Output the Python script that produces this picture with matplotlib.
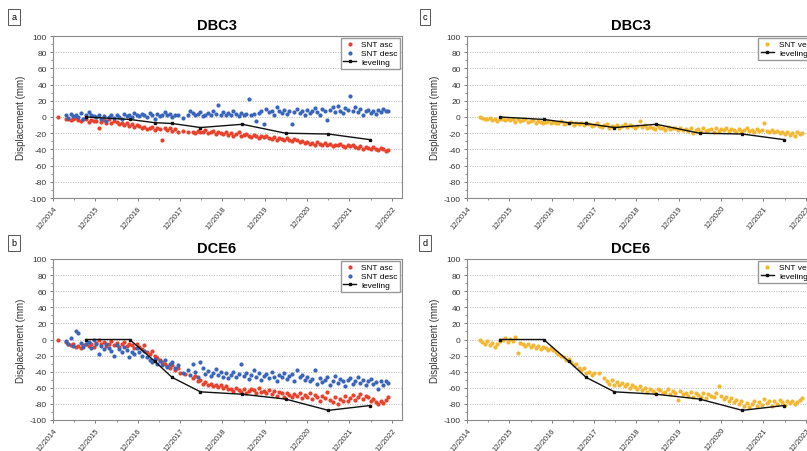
import matplotlib.pyplot as plt
import numpy as np
from matplotlib import ticker

plt.rcParams["font.family"] = ["Liberation Sans", "DejaVu Sans"]
plt.rcParams["axes.unicode_minus"] = False
plt.rcParams["figure.dpi"] = 100

nan = np.nan

# acquisition times in years since 12/2014
t_acq = [0.12,
         0.30, 0.36, 0.42, 0.48, 0.54, 0.60, 0.66, 0.72, 0.78, 0.84, 0.90, 0.96,
         1.02, 1.08, 1.14, 1.20, 1.26, 1.32, 1.38, 1.44, 1.50, 1.56, 1.62, 1.68, 1.74, 1.80, 1.86, 1.92, 1.98,
         2.04, 2.10, 2.16, 2.22, 2.28, 2.34, 2.40, 2.46, 2.52, 2.58, 2.64, 2.70, 2.76, 2.82, 2.88, 2.94,
         3.00, 3.06, 3.12, 3.18, 3.24, 3.30, 3.36, 3.42, 3.48, 3.54, 3.60, 3.66, 3.72, 3.78, 3.84, 3.90, 3.96,
         4.02, 4.08, 4.14, 4.20, 4.26, 4.32, 4.38, 4.44, 4.50, 4.56, 4.62, 4.68, 4.74, 4.80, 4.86, 4.92, 4.98,
         5.04, 5.10, 5.16, 5.22, 5.28, 5.34, 5.40, 5.46, 5.52, 5.58, 5.64, 5.70, 5.76, 5.82, 5.88, 5.94,
         6.00, 6.06, 6.12, 6.18, 6.24, 6.30, 6.36, 6.42, 6.48, 6.54, 6.60, 6.66, 6.72, 6.78, 6.84, 6.90, 6.96,
         7.02, 7.08, 7.14, 7.20, 7.26, 7.32, 7.38, 7.44, 7.50, 7.56, 7.62, 7.68, 7.74, 7.80, 7.86, 7.92]

dbc3_asc = [0,
            -3, -2, -4, -3, -1, -4, -5, -3, -2, -6, -4, -5,
            -5, -14, -6, -4, -7, -3, -8, -5, -6, -9, -7, -10, -8, -11, -9, -12, -10,
            -11, -13, -12, -15, -14, -12, -16, -13, -15, -28, -14, -16, -13, -17, -15, -18,
            nan, -17, nan, -19, nan, -18, -20, -17, -19, -18, -16, -20, -19, -17, -21, -19, -20,
            -21, -19, -22, -20, -23, -21, -19, -24, -22, -21, -23, -25, -22, -24, -26, -23, -25,
            -24, -26, -27, -25, -28, -26, -27, -29, -26, -28, -30, -27, -29, -31, -30, -32,
            -31, -33, -32, -34, -31, -33, -35, -32, -34, -33, -36, -34, -35, -33, -36, -37, -35,
            -36, -34, -37, -38, -36, -39, -37, -38, -40, -37, -39, -41, -38, -40, -42, -41]
dbc3_desc = [nan,
             2, -1, 4, 1, 3, 0, 5, -2, 2, 6, 3, 1,
             0, 2, -3, 1, -5, 0, 3, -1, 2, 0, -2, 4, 1, 3, 0, 5, 2,
             1, 4, 2, 0, 5, 3, -2, 4, 1, 3, 6, 2, 4, 0, 3, 2,
             nan, -1, nan, 3, 8, 5, 2, 4, 6, 1, 3, 5, 2, 7, 4, 15, 3,
             6, 2, 5, 3, 7, 4, 1, 5, 3, 4, 22, 2, 4, -5, 5, 8, -9,
             10, 6, 8, 3, 12, 7, 5, 9, 4, 8, -9, 6, 10, 5, 7, 3,
             9, 5, 8, 11, 6, 3, 10, 7, -4, 9, 12, 6, 14, 8, 5, 11, 9,
             26, 8, 12, 6, 10, 2, 7, 9, 5, 8, 4, 9, 6, 10, 7, 8]
dbc3_vert = [nan,
             0, -1, -2, -3, -1, -4, -2, -5, -3, -2, -4, -3,
             -4, -3, -6, -2, -5, -4, -3, -6, -5, -4, -7, -5, -6, -8, -6, -5, -7,
             -6, -8, -7, -5, -9, -7, -8, -6, -10, -8, -9, -7, -10, -8, -9, -11,
             -10, -8, -11, -12, -10, -9, -13, -11, -12, -10, -13, -11, -9, -12, -10, -11, -13,
             -11, -5, -12, -10, -14, -12, -13, -15, -11, -14, -13, -16, -12, -15, -14, -13, -16,
             -14, -16, -15, -17, -13, -20, -16, -15, -18, -14, -17, -16, -15, -18, -14, -17,
             -15, -16, -14, -17, -15, -16, -18, -15, -17, -16, -14, -17, -16, -18, -15, -17, -16,
             -8, -17, -18, -16, -19, -17, -20, -18, -21, -19, -22, -20, -23, -19, -21, -20]

dce6_asc = [0,
            -3, -5, -7, -6, -9, -8, -10, -7, -5, -8, -6, -9,
            -4, 0, -6, -3, -8, -5, -2, -7, -4, -9, -6, -3, -8, -5, -7, -10, -6,
            -9, -12, -7, -15, -18, -14, -20, -23, -25, -28, -30, -33, -35, -32, -38, -36,
            -42, nan, -43, nan, nan, -48, -45, -52, -50, -55, -53, -57, -55, -58, -56, -59, -57,
            -60, -58, -62, -61, -64, -60, -63, -65, -62, -66, -64, -61, -63, -67, -60, -65, -64,
            -66, -63, -68, -64, -70, -65, -67, -71, -66, -69, -72, -68, -70, -67, -73, -69,
            -71, -67, -74, -69, -72, -76, -70, -73, -65, -75, -78, -72, -80, -74, -77, -70, -76,
            -73, -69, -75, -71, -68, -74, -70, -72, -76, -74, -78, -80, -77, -79, -75, -72]
dce6_desc = [nan,
             -2, -6, 2, -8, 10, 8, -4, -9, -6, -3, -10, 0,
             -5, -18, -8, -12, -6, -10, -14, -20, -7, -12, -16, -9, -13, -22, -15, -18, -11,
             -16, -20, -14, -22, -25, -28, -24, -30, -27, -32, -26, -34, -30, -28, -35, -32,
             nan, -42, nan, -38, -44, -30, -40, -46, -28, -36, -43, -39, -45, -41, -37, -44, -40,
             -46, -42, -48, -44, -40, -47, -43, -30, -45, -41, -49, -44, -38, -46, -42, -50, -45,
             -43, -48, -40, -46, -52, -44, -47, -41, -49, -45, -43, -51, -38, -47, -44, -50,
             -46, -52, -49, -38, -55, -48, -53, -50, -47, -56, -51, -45, -54, -49, -52, -58, -50,
             -48, -55, -51, -47, -54, -50, -57, -52, -49, -55, -53, -62, -51, -56, -52, -54]
dce6_vert = [nan,
             0, -3, -5, -2, -7, -4, -9, -6, -2, 0, 2, -3,
             1, -2, 3, -17, -4, -6, -8, -5, -9, -7, -10, -8, -12, -9, -11, -13, -10,
             -13, -16, -18, -20, -22, -26, -24, -28, -32, -30, -35, -38, -36, -42, -40, -44,
             -41, nan, -42, nan, -48, -52, -55, -50, -57, -53, -56, -54, -58, -55, -60, -57, -59,
             -61, -58, -63, -60, -65, -62, -64, -66, -61, -63, -67, -65, -62, -68, -64, -66, -75,
             -64, -68, -66, -70, -65, -72, -67, -69, -71, -66, -73, -68, -70, -72, -67, -58,
             -70, -74, -72, -76, -73, -78, -75, -80, -77, -82, -79, -84, -80, -76, -83, -78, -81,
             -74, -79, -76, -82, -77, -80, -75, -78, -81, -77, -79, -76, -80, -78, -75, -73]

# leveling campaigns
lev_t = [0.78, 1.81, 2.40, 2.81, 3.48, 4.47, 5.49, 6.50, 7.49]
dbc3_lev = [0, -3, -7, -8, -13, -9, -20, -21, -28]
dce6_lev = [0, 0, -27, -47, -65, -68, -74, -88, -82]

tick_labels = ["12/2014", "12/2015", "12/2016", "12/2017", "12/2018",
               "12/2019", "12/2020", "12/2021", "12/2022"]

red = "#e8412c"
blue = "#3a65b8"
yellow = "#f3b733"


def draw_panel(ax, title, series, lev):
    for y, color, label in series:
        ax.scatter(t_acq, y, s=9, color=color, linewidths=0, label=label, zorder=2)
    ax.plot(lev_t, lev, color="#111111", lw=1, marker="s", ms=2, label="leveling", zorder=3)

    ax.set_xlim(0, 8.24)
    ax.set_ylim(-100, 100)
    ax.set_xticks(range(len(tick_labels)))
    ax.set_xticklabels(tick_labels, rotation=50, ha="right", rotation_mode="anchor")
    ax.xaxis.set_minor_locator(ticker.MultipleLocator(0.5))
    ax.set_yticks(np.arange(-100, 101, 20))
    ax.yaxis.set_minor_locator(ticker.MultipleLocator(10))
    for v in range(-80, 81, 20):
        ax.axhline(v, color="#b8b8b8", lw=0.7, ls=(0, (1, 1.5)), zorder=1)

    ax.tick_params(labelsize=6, length=2.5, width=0.6, color="#666666", labelcolor="#333333", pad=2)
    ax.tick_params(axis="x", labelsize=5.5)
    ax.tick_params(which="minor", length=1.5, width=0.5, color="#666666")
    for sp in ax.spines.values():
        sp.set_color("#8a8a8a")
        sp.set_linewidth(0.8)

    ax.set_ylabel("Displacement (mm)", fontsize=7, color="#333333", labelpad=3)
    ax.set_title(title, fontsize=10.5, fontweight="bold", x=0.47, pad=5)
    ax.legend(loc="upper right", fontsize=6, scatterpoints=1, frameon=True, fancybox=False,
              edgecolor="#999999", framealpha=1, borderpad=0.3, handlelength=1.6,
              handletextpad=0.6, labelspacing=0.15, borderaxespad=0.2)


fig = plt.figure(figsize=(8.07, 4.52))
W, H = 807, 452

ax_a = fig.add_axes([53 / W, 1 - 199 / H, 349 / W, 162 / H])
ax_b = fig.add_axes([53 / W, 1 - 421 / H, 349 / W, 161 / H])
ax_c = fig.add_axes([467 / W, 1 - 199 / H, 349 / W, 162 / H])
ax_d = fig.add_axes([467 / W, 1 - 421 / H, 349 / W, 161 / H])

draw_panel(ax_a, "DBC3", [(dbc3_asc, red, "SNT asc"), (dbc3_desc, blue, "SNT desc")], dbc3_lev)
draw_panel(ax_b, "DCE6", [(dce6_asc, red, "SNT asc"), (dce6_desc, blue, "SNT desc")], dce6_lev)
draw_panel(ax_c, "DBC3", [(dbc3_vert, yellow, "SNT vert")], dbc3_lev)
draw_panel(ax_d, "DCE6", [(dce6_vert, yellow, "SNT vert")], dce6_lev)

for letter, x, y in [("a", 14, 18), ("b", 14, 244), ("c", 425, 18), ("d", 425, 244)]:
    fig.text(x / W, 1 - y / H, letter, fontsize=6.5, ha="center", va="center",
             bbox=dict(boxstyle="square,pad=0.35", fc="white", ec="#555555", lw=0.7))

fig.savefig("out.png", dpi=100)
